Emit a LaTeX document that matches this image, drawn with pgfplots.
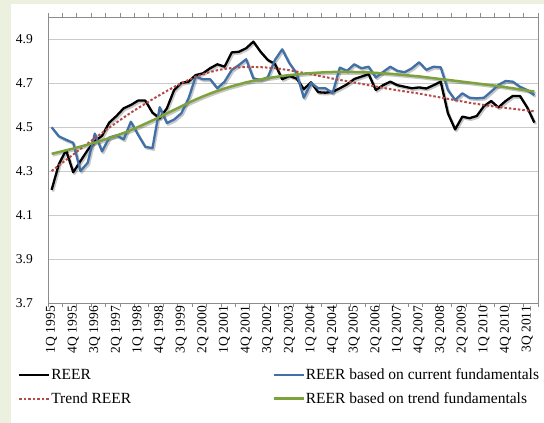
\documentclass[border=0pt]{standalone}
\usepackage{fontspec}
\setmainfont{Liberation Serif}
\usepackage{pgfplots}
\usepackage{pgfplotstable}
\pgfplotsset{compat=1.18}
\definecolor{bggreen}{HTML}{EBF1DE}
\definecolor{reerblue}{HTML}{4170A8}
\definecolor{trendred}{HTML}{B54B48}
\definecolor{fundgreen}{HTML}{7DA23C}
\definecolor{gridgray}{HTML}{CACACA}
\definecolor{axisgray}{HTML}{8C8C8C}
\newcommand\tickfont{\fontsize{13.5bp}{16bp}\selectfont}
\newcommand\legfont{\fontsize{15.5bp}{17bp}\selectfont}

\pgfplotstableread{
i reer cur trend tfund
0 4.214 4.499 4.300 4.378
1 4.330 4.458 4.325 4.386
2 4.395 4.442 4.350 4.394
3 4.294 4.428 4.375 4.402
4 4.345 4.300 4.400 4.411
5 4.395 4.337 4.425 4.420
6 4.435 4.470 4.449 4.429
7 4.460 4.389 4.473 4.439
8 4.520 4.452 4.497 4.450
9 4.550 4.462 4.520 4.461
10 4.585 4.444 4.543 4.473
11 4.600 4.524 4.565 4.486
12 4.620 4.465 4.586 4.500
13 4.620 4.410 4.606 4.515
14 4.565 4.404 4.626 4.530
15 4.540 4.590 4.645 4.546
16 4.585 4.518 4.664 4.562
17 4.668 4.534 4.682 4.578
18 4.700 4.562 4.699 4.594
19 4.706 4.630 4.714 4.610
20 4.736 4.729 4.728 4.625
21 4.744 4.717 4.740 4.639
22 4.767 4.717 4.750 4.652
23 4.785 4.676 4.758 4.664
24 4.774 4.706 4.764 4.675
25 4.839 4.759 4.768 4.685
26 4.842 4.782 4.771 4.694
27 4.858 4.808 4.773 4.703
28 4.888 4.721 4.773 4.710
29 4.842 4.714 4.772 4.716
30 4.805 4.726 4.770 4.722
31 4.786 4.805 4.767 4.727
32 4.717 4.853 4.763 4.732
33 4.732 4.790 4.758 4.736
34 4.720 4.744 4.752 4.739
35 4.672 4.633 4.746 4.742
36 4.703 4.700 4.740 4.745
37 4.658 4.676 4.733 4.747
38 4.656 4.676 4.727 4.749
39 4.660 4.655 4.720 4.750
40 4.676 4.770 4.714 4.750
41 4.694 4.755 4.708 4.750
42 4.718 4.785 4.702 4.750
43 4.729 4.767 4.696 4.749
44 4.740 4.774 4.690 4.748
45 4.668 4.725 4.684 4.746
46 4.690 4.750 4.678 4.744
47 4.706 4.774 4.672 4.742
48 4.690 4.755 4.667 4.739
49 4.683 4.749 4.662 4.736
50 4.676 4.767 4.657 4.733
51 4.680 4.794 4.652 4.730
52 4.675 4.760 4.646 4.726
53 4.690 4.774 4.640 4.722
54 4.706 4.771 4.634 4.718
55 4.562 4.668 4.628 4.714
56 4.489 4.623 4.622 4.710
57 4.547 4.653 4.616 4.706
58 4.540 4.633 4.610 4.702
59 4.550 4.630 4.605 4.698
60 4.595 4.633 4.600 4.694
61 4.618 4.661 4.595 4.690
62 4.589 4.691 4.591 4.686
63 4.618 4.709 4.587 4.681
64 4.641 4.706 4.583 4.676
65 4.641 4.683 4.579 4.671
66 4.589 4.668 4.575 4.666
67 4.520 4.645 4.571 4.661
}\data

\begin{document}
\begin{tikzpicture}
\useasboundingbox (0bp,0bp) rectangle (544bp,423bp);
\fill[bggreen] (0bp,0bp) rectangle (544bp,423bp);
\fill[white] (11bp,0bp) rectangle (544bp,419bp);
\begin{axis}[
  at={(48bp,120bp)}, anchor=south west,
  scale only axis, width=490bp, height=286bp,
  xmin=-0.5, xmax=67.5, ymin=3.7, ymax=5.0,
  ytick={3.7,3.9,4.1,4.3,4.5,4.7,4.9},
  ymajorgrids, grid style={gridgray, line width=0.8bp},
  axis line style={axisgray, line width=0.8bp},
  xtick={0,3,...,66},
  xticklabels={1Q 1995,4Q 1995,3Q 1996,2Q 1997,1Q 1998,4Q 1998,3Q 1999,2Q 2000,1Q 2001,4Q 2001,3Q 2002,2Q 2003,1Q 2004,4Q 2004,3Q 2005,2Q 2006,1Q 2007,4Q 2007,3Q 2008,2Q 2009,1Q 2010,4Q 2010,3Q 2011},
  minor xtick={-0.5,1.5,...,67.5},
  tick align=outside,
  major tick length=0pt, minor tick length=4bp,
  minor tick style={axisgray, line width=0.8bp},
  ytick style={draw=none},
  /pgf/number format/assume math mode=true,
  xticklabel style={yshift=-3bp, rotate=90, anchor=east, inner sep=0pt, font=\tickfont},
  yticklabel style={anchor=east, inner sep=0pt, font=\tickfont, xshift=-15bp,
    /pgf/number format/.cd, fixed, fixed zerofill, precision=1},
  legend columns=2,
  legend cell align=left,
  legend image code/.code={\draw[#1] (0bp,0bp) -- (30bp,0bp);},
  legend style={at={(axis description cs:-0.0612,-0.2283)}, anchor=north west,
    draw=none, fill=none, inner sep=0pt, outer sep=0pt, row sep=10bp,
    font=\legfont, nodes={inner sep=0pt, text height=11.5bp, text depth=2bp},
    /tikz/every odd column/.style={column sep=1bp},
    /tikz/every even column/.style={column sep=141bp}},
]
\addplot[forget plot, black, opacity=0.22, line width=2.4bp, line join=round, transform canvas={xshift=1.3bp, yshift=-1.6bp}] table[x=i, y=reer]{\data};
\addplot[forget plot, black, opacity=0.22, line width=2.4bp, line join=round, transform canvas={xshift=1.3bp, yshift=-1.6bp}] table[x=i, y=cur]{\data};
\addplot[forget plot, black, opacity=0.22, line width=2.4bp, line join=round, transform canvas={xshift=1.3bp, yshift=-1.6bp}] table[x=i, y=tfund]{\data};
\addplot[black, line width=2.3bp, line join=round] table[x=i, y=reer]{\data};
\addlegendentry{REER}
\addplot[reerblue, line width=2.3bp, line join=round] table[x=i, y=cur]{\data};
\addlegendentry{REER based on current fundamentals}
\addplot[trendred, line width=2bp, dash pattern=on 2.5bp off 2bp] table[x=i, y=trend]{\data};
\addlegendentry{Trend REER}
\addplot[fundgreen, line width=2.5bp] table[x=i, y=tfund]{\data};
\addlegendentry{REER based on trend fundamentals}
\end{axis}
\end{tikzpicture}
\end{document}
